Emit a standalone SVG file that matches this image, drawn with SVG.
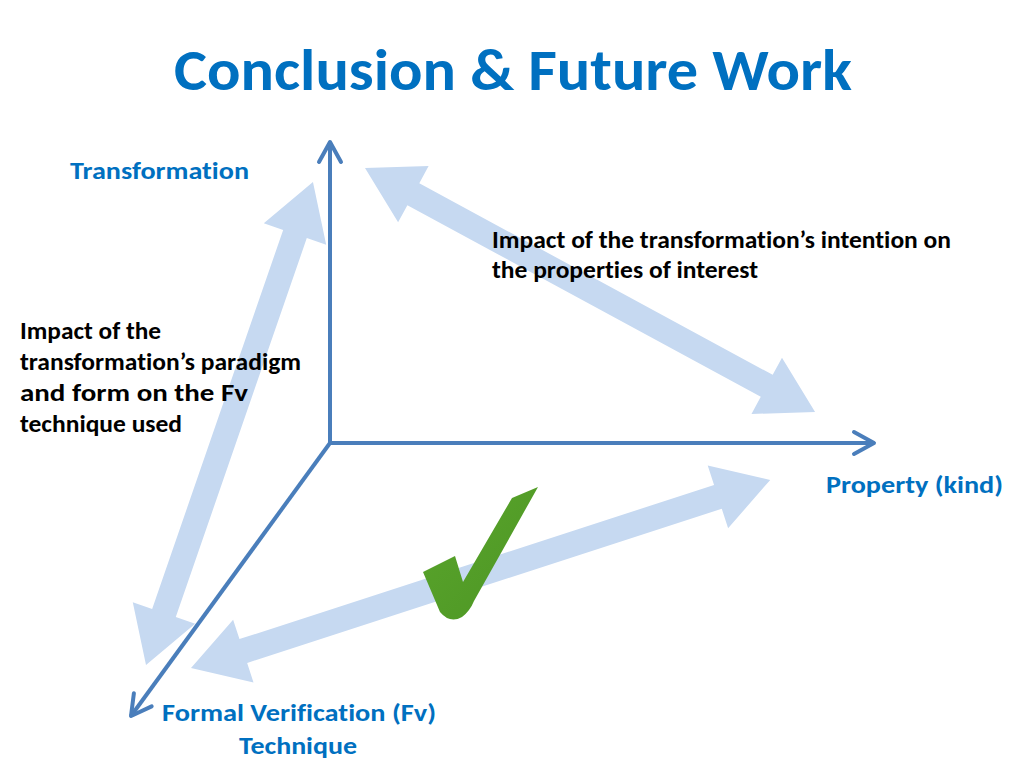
<svg xmlns="http://www.w3.org/2000/svg" width="1024" height="768" viewBox="0 0 1024 768">
<style>
.t{font-family:Carlito,Lato,"Liberation Sans",sans-serif;font-weight:bold;font-variant-ligatures:none}
.title{font-size:59px;fill:#0070c0}
.blue{font-size:25px;fill:#0070c0}
.blk{font-size:24px;fill:#000}
.dbl{fill:#c6d9f1}
.axis{stroke:#4a7ebb;stroke-width:4;fill:none}
</style>
<defs>
<marker id="chev" viewBox="-26 -15 30 30" refX="0" refY="0" markerWidth="30" markerHeight="30" markerUnits="userSpaceOnUse" orient="auto">
<path d="M-20,-11 L0,0 L-20,11" fill="none" stroke="#4a7ebb" stroke-width="4" stroke-linecap="round" stroke-linejoin="round"/>
</marker>
<linearGradient id="gr" x1="0" y1="0" x2="1" y2="1">
<stop offset="0" stop-color="#5aa52c"/>
<stop offset="1" stop-color="#4d9624"/>
</linearGradient>
</defs>
<rect width="1024" height="768" fill="#fff"/>
<text class="t title" x="174" y="90" textLength="678" lengthAdjust="spacingAndGlyphs">Conclusion &amp; Future Work</text>

<g id="connectors">
<g id="arrow-transformation-fv">
<path class="dbl" transform="translate(146,665) rotate(-70.93)" d="M0,0 L55,-33 L55,-12.5 L456,-12.5 L456,-33 L511,0 L456,33 L456,12.5 L55,12.5 L55,33 Z"/>
</g>
<g id="arrow-transformation-property">
<path class="dbl" transform="translate(365,168) rotate(28.47)" d="M0,0 L55,-32 L55,-12.5 L457,-12.5 L457,-32 L512,0 L457,32 L457,12.5 L55,12.5 L55,32 Z"/>
</g>
<g id="arrow-fv-property">
<path class="dbl" transform="translate(191,668) rotate(-17.99)" d="M0,0 L55,-33 L55,-12.5 L554,-12.5 L554,-33 L609,0 L554,33 L554,12.5 L55,12.5 L55,33 Z"/>
</g>
<g id="axes">
<line class="axis" x1="330" y1="445" x2="330" y2="142" marker-end="url(#chev)"/>
<line class="axis" x1="328" y1="443" x2="874" y2="443" marker-end="url(#chev)"/>
<line class="axis" x1="330" y1="443" x2="131" y2="716" marker-end="url(#chev)"/>
</g>
</g>

<g id="check">
<path d="M538,487 L512,498 L463,582 L455,556 L423,572 L440,612 Q450,624 462,617 Q470,611 474,601 Z" fill="url(#gr)"/>
</g>

<g id="node-transformation">
<text class="t blue" x="70" y="179" textLength="179" lengthAdjust="spacingAndGlyphs">Transformation</text>
</g>
<g id="node-property">
<text class="t blue" x="826" y="493" textLength="177" lengthAdjust="spacingAndGlyphs">Property (kind)</text>
</g>
<g id="node-fv">
<text class="t blue" x="162" y="721" textLength="274" lengthAdjust="spacingAndGlyphs">Formal Verification (Fv)</text>
<text class="t blue" x="239" y="754" textLength="118" lengthAdjust="spacingAndGlyphs">Technique</text>
</g>
<g id="label-left">
<text class="t blk" x="20" y="339" textLength="141" lengthAdjust="spacingAndGlyphs">Impact of the</text>
<text class="t blk" x="20" y="370" textLength="281" lengthAdjust="spacingAndGlyphs">transformation’s paradigm</text>
<text class="t blk" x="20" y="401" textLength="228" lengthAdjust="spacingAndGlyphs">and form on the Fv</text>
<text class="t blk" x="20" y="432" textLength="162" lengthAdjust="spacingAndGlyphs">technique used</text>
</g>
<g id="label-right">
<text class="t blk" x="492" y="248" textLength="459" lengthAdjust="spacingAndGlyphs">Impact of the transformation’s intention on</text>
<text class="t blk" x="492" y="278" textLength="266" lengthAdjust="spacingAndGlyphs">the properties of interest</text>
</g>
</svg>
